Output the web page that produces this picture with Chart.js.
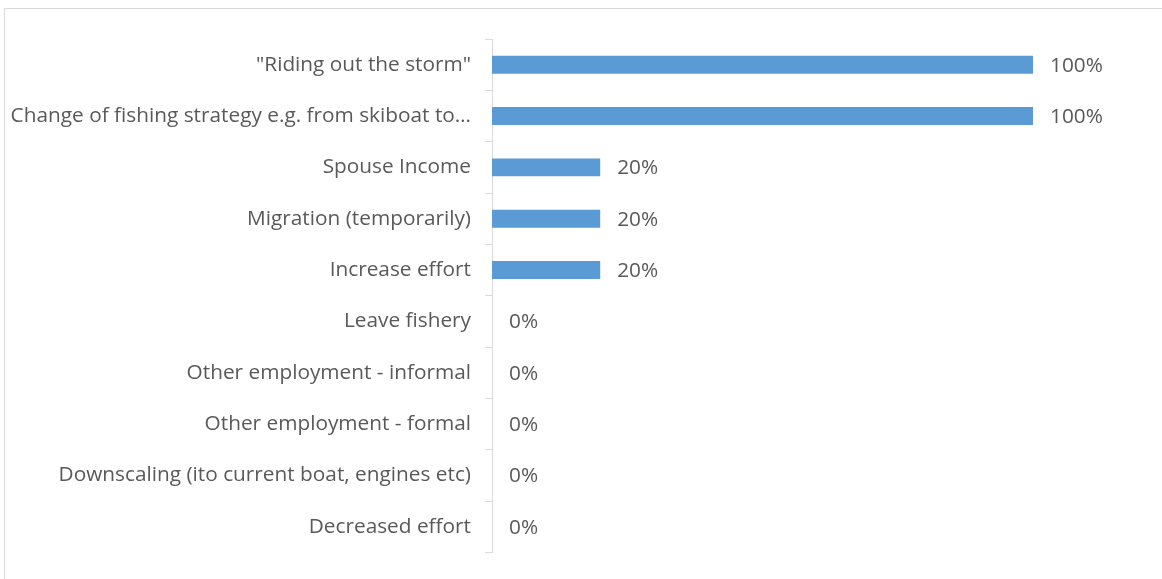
<!DOCTYPE html>
<html>
<head>
<meta charset="utf-8">
<script src="https://cdn.jsdelivr.net/npm/chart.js@4.4.1/dist/chart.umd.min.js"></script>
<style>
  html, body { margin: 0; padding: 0; background: #fff; overflow: hidden; }
  .frame {
    position: absolute; left: 4px; top: 8px;
    width: 1300px; height: 700px;
    border: 1px solid #d9d9d9;
  }
  .chart-box { position: absolute; left: 0; top: 0; width: 1162px; height: 579px; }
</style>
</head>
<body>
<div class="frame"></div>
<div class="chart-box"><canvas id="strategyChart"></canvas></div>
<script>
// Coping strategies, top to bottom
const strategies = [
  '"Riding out the storm"',
  'Change of fishing strategy e.g. from skiboat to…',
  'Spouse Income',
  'Migration (temporarily)',
  'Increase effort',
  'Leave fishery',
  'Other employment - informal',
  'Other employment - formal',
  'Downscaling (ito current boat, engines etc)',
  'Decreased effort'
];
// Share of respondents (fraction)
const shares = [1.0, 1.0, 0.2, 0.2, 0.2, 0, 0, 0, 0, 0];

const textColor = '#595959';
const fontFamily = '"Open Sans", sans-serif';
const fontSize = 20.8;

// writes the percentage next to each bar
const valueLabels = {
  id: 'valueLabels',
  afterDatasetsDraw(chart) {
    const ctx = chart.ctx;
    const meta = chart.getDatasetMeta(0);
    ctx.save();
    ctx.fillStyle = textColor;
    ctx.font = fontSize + 'px ' + fontFamily;
    ctx.textAlign = 'left';
    ctx.textBaseline = 'middle';
    meta.data.forEach((bar, i) => {
      const v = chart.data.datasets[0].data[i];
      ctx.fillText(Math.round(v * 100) + '%', bar.x + 17, bar.y + 1);
    });
    ctx.restore();
  }
};

new Chart(document.getElementById('strategyChart'), {
  type: 'bar',
  data: {
    labels: strategies,
    datasets: [{
      data: shares,
      backgroundColor: '#5b9bd5',
      barPercentage: 0.35,
      categoryPercentage: 1.0
    }]
  },
  options: {
    indexAxis: 'y',
    responsive: true,
    maintainAspectRatio: false,
    animation: false,
    layout: { padding: { left: 0, right: 129, top: 39, bottom: 23 } },
    plugins: {
      legend: { display: false },
      tooltip: { enabled: false }
    },
    scales: {
      x: { display: false, min: 0, max: 1 },
      y: {
        afterFit(scale) { scale.width = 492; },
        border: { display: true, color: '#d9d9d9', width: 1 },
        grid: {
          drawOnChartArea: false,
          drawTicks: true,
          tickLength: 7,
          color: '#d9d9d9',
          offset: true
        },
        ticks: {
          color: textColor,
          padding: 14,
          autoSkip: false,
          font: { family: fontFamily, size: fontSize }
        }
      }
    }
  },
  plugins: [valueLabels]
});
</script>
</body>
</html>
